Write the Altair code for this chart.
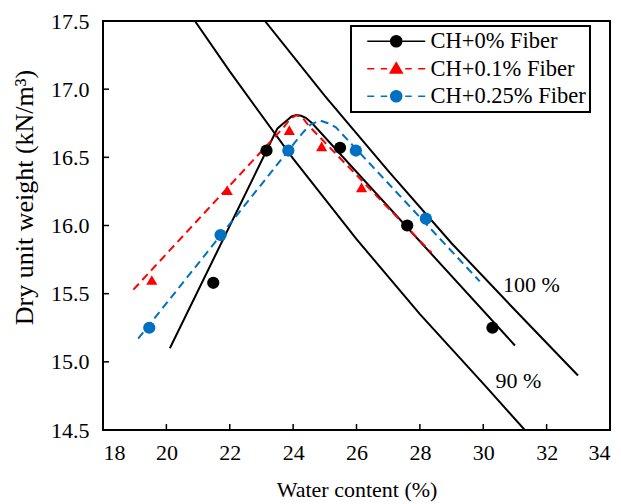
import altair as alt
import pandas as pd

# ---------------- data ----------------
series = ["CH+0% Fiber", "CH+0.1% Fiber", "CH+0.25% Fiber"]
colors = ["#000000", "#FF0000", "#0070C0"]

# measured points
w0 = [21.48, 23.16, 25.48, 27.60, 30.29]
g0 = [15.58, 16.55, 16.57, 16.00, 15.25]
w1 = [19.54, 21.92, 23.88, 24.90, 26.16]
g1 = [15.60, 16.26, 16.70, 16.58, 16.28]
w2 = [19.46, 21.71, 23.85, 25.98, 28.19]
g2 = [15.25, 15.93, 16.55, 16.55, 16.05]

# compaction curves
fit0_w = [20.11, 23.50, 23.65, 23.80, 23.95, 24.10, 24.25, 24.40, 24.60, 31.00]
fit0_g = [15.10, 16.71, 16.74, 16.77, 16.80, 16.81, 16.805, 16.79, 16.75, 15.12]
fit1_w = [18.96, 23.70, 23.90, 24.10, 24.30, 24.50, 28.37]
fit1_g = [15.53, 16.72, 16.78, 16.81, 16.79, 16.73, 15.80]
fit2_w = [19.11, 24.30, 24.55, 24.85, 25.10, 25.35, 29.89]
fit2_g = [15.17, 16.68, 16.74, 16.77, 16.75, 16.72, 15.59]

# saturation lines
s100_w = [23.11, 25.00, 27.00, 29.00, 31.00, 32.99]
s100_g = [17.50, 16.95, 16.40, 15.87, 15.38, 14.90]
s90_w = [20.90, 22.00, 24.00, 26.00, 28.00, 30.00, 31.31]
s90_g = [17.50, 17.13, 16.49, 15.90, 15.35, 14.84, 14.50]

label_text = ["100 %", "90 %"]
label_w = [31.52, 31.11]
label_g = [15.56, 14.86]

x_ticks = [18, 20, 22, 24, 26, 28, 30, 32, 34]
y_ticks = [14.5, 15.0, 15.5, 16.0, 16.5, 17.0, 17.5]

# ---------------- chart ----------------
FONT = "Liberation Serif"
W, H = 507, 409

xs = alt.Scale(domain=[18, 34], nice=False, zero=False)
ys = alt.Scale(domain=[14.5, 17.5], nice=False, zero=False)

common_axis = dict(ticks=False, domain=False, grid=False, labelFont=FONT, titleFont=FONT,
                   labelFontSize=22, labelColor="black", titleColor="black",
                   titleFontWeight="normal")
xaxis = alt.Axis(values=x_ticks, format="d", title="Water content (%)",
                 labelPadding=12, titlePadding=16, titleFontSize=22, **common_axis)
yaxis = alt.Axis(values=y_ticks, format=".1f", title="Dry unit weight (kN/m³)",
                 labelPadding=14, titlePadding=13, titleFontSize=26, titleY=176,
                 **common_axis)

X = lambda f: alt.X(f, scale=xs, axis=xaxis)
Y = lambda f: alt.Y(f, scale=ys, axis=yaxis)

def line_layer(ws, gs, color, dash=None):
    df = pd.DataFrame({"w": ws, "g": gs})
    kw = dict(color=color, strokeWidth=2, clip=True)
    if dash:
        kw["strokeDash"] = dash
    return alt.Chart(df).mark_line(**kw).encode(x=X("w:Q"), y=Y("g:Q"), order="w:Q")

def point_layer(ws, gs, color, shape, size):
    df = pd.DataFrame({"w": ws, "g": gs})
    return alt.Chart(df).mark_point(filled=True, shape=shape, size=size, color=color,
                                    opacity=1).encode(x=X("w:Q"), y=Y("g:Q"))

layers = [
    line_layer(s100_w, s100_g, "black"),
    line_layer(s90_w, s90_g, "black"),
    line_layer(fit0_w, fit0_g, colors[0]),
    line_layer(fit1_w, fit1_g, colors[1], [8, 5]),
    line_layer(fit2_w, fit2_g, colors[2], [8, 5]),
    point_layer(w0, g0, colors[0], "circle", 150),
    point_layer(w1, g1, colors[1], "triangle-up", 125),
    point_layer(w2, g2, colors[2], "circle", 150),
]

labels_df = pd.DataFrame({"t": label_text, "w": label_w, "g": label_g})
labels = alt.Chart(labels_df).mark_text(font=FONT, fontSize=22, color="black",
                                        align="center", baseline="middle").encode(
    x=X("w:Q"), y=Y("g:Q"), text="t:N")

# inward ticks
xt = alt.Chart(pd.DataFrame({"t": x_ticks[1:-1]})).mark_rule(color="black", strokeWidth=1.5).encode(
    x=X("t:Q"), y=alt.value(H), y2=alt.value(H - 6))
yt = alt.Chart(pd.DataFrame({"t": y_ticks[1:-1]})).mark_rule(color="black", strokeWidth=1.5).encode(
    y=Y("t:Q"), x=alt.value(0), x2=alt.value(6))

# legend (line + marker symbols as custom paths)
circle = "M2.91,0A0.92,0.92,0,1,0,4.75,0A0.92,0.92,0,1,0,2.91,0Z"
tri = "M3.83,-1L4.83,0.72L2.83,0.72Z"
dashes_l = "M-1,0L0.17,0M1.25,0L2.33,0"
dashes_r = "M5.33,0L6.41,0M7.49,0L8.66,0"
paths = [
    "M-1,0L8.66,0" + circle,
    dashes_l + dashes_r + tri,
    dashes_l + dashes_r + circle,
]
leg_df = pd.DataFrame({"series": series})
legend_layer = alt.Chart(leg_df).mark_point(strokeWidth=1.5).encode(
    fill=alt.Fill("series:N", scale=alt.Scale(domain=series, range=colors), title=None),
    stroke=alt.Stroke("series:N", scale=alt.Scale(domain=series, range=colors), title=None),
    shape=alt.Shape("series:N", scale=alt.Scale(domain=series, range=paths), title=None),
).transform_filter("false")

chart = alt.layer(*layers, labels, xt, yt, legend_layer).properties(
    width=W, height=H,
    autosize=alt.AutoSizeParams(type="none"),
    padding={"left": 103, "top": 21, "right": 11, "bottom": 74},
    background="white",
).configure_view(
    stroke="black", strokeWidth=2
).configure_axis(
    labelFont=FONT, titleFont=FONT, labelFontSize=22,
    labelColor="black", titleColor="black", titleFontWeight="normal",
).configure_legend(
    orient="none", legendX=248, legendY=5,
    strokeColor="black", strokeWidth=2, padding=4, fillColor="white",
    symbolSize=144, symbolStrokeWidth=1.5, symbolOffset=7,
    labelOffset=46, labelFont=FONT, labelFontSize=22.5, labelColor="black",
    labelLimit=400, rowPadding=4.5, symbolOpacity=1,
)

chart.save("out.html", embed_options={"renderer": "svg", "actions": False})
